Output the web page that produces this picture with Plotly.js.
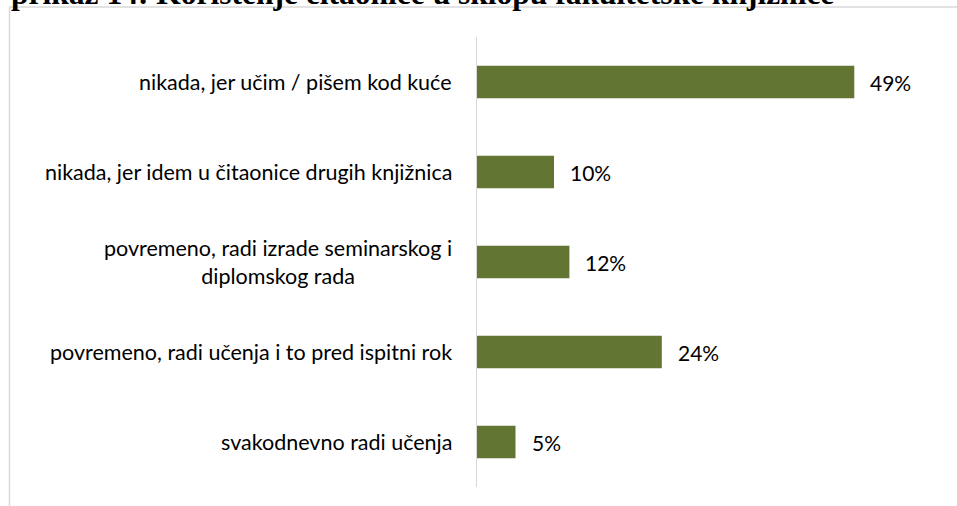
<!DOCTYPE html>
<html>
<head>
<meta charset="utf-8">
<script src="https://cdn.plot.ly/plotly-3.0.1.min.js"></script>
<style>
html,body{margin:0;padding:0;background:#fff;}
#chart{width:957px;height:506px;}
</style>
</head>
<body>
<div id="chart"></div>
<script>
const categories = [
  "nikada, jer učim / pišem kod kuće",
  "nikada, jer idem u čitaonice drugih knjižnica",
  "povremeno, radi izrade seminarskog i<br>diplomskog rada",
  "povremeno, radi učenja i to pred ispitni rok",
  "svakodnevno radi učenja"
];
const values = [49, 10, 12, 24, 5];
const valueLabels = ["49%", "10%", "12%", "24%", "5%"];
const titleText = "prikaz 14: Korištenje čitaonice u sklopu fakultetske knjižnice";

const W = 957, H = 506;
const M = {l: 477, r: 18, t: 37, b: 19};
const pw = W - M.l - M.r, ph = H - M.t - M.b;
const px = x => (x - M.l) / pw;
const py = y => (H - M.b - y) / ph;

const FONT = "Lato, 'Open Sans', sans-serif";
const BAR = "#637532";

const annotations = [];
categories.forEach((c, i) => {
  annotations.push({
    xref: "x", yref: "y", x: 0, y: c, text: c,
    xanchor: "right", yanchor: "middle", xshift: -23, align: "center",
    showarrow: false, font: {family: FONT, size: 21.5, color: "#000"}
  });
  annotations.push({
    xref: "x", yref: "y", x: values[i], y: c, text: valueLabels[i],
    xanchor: "left", yanchor: "middle", xshift: 14,
    showarrow: false, font: {family: FONT, size: 21, color: "#000"}
  });
});
annotations.push({
  xref: "paper", yref: "paper", x: px(9), y: 1, text: "<b>" + titleText + "</b>",
  xanchor: "left", yanchor: "middle", yshift: 44,
  showarrow: false, font: {family: "'Liberation Serif', 'DejaVu Serif', serif", size: 31.5, color: "#000"}
});

const data = [{
  type: "bar", orientation: "h",
  x: values, y: categories,
  marker: {color: BAR},
  width: 0.36,
  hoverinfo: "none"
}];

const layout = {
  width: W, height: H,
  margin: M,
  paper_bgcolor: "#fff", plot_bgcolor: "#fff",
  showlegend: false,
  xaxis: {range: [0, 60], visible: false, fixedrange: true},
  yaxis: {
    type: "category", autorange: "reversed",
    showticklabels: false, ticks: "", showgrid: false, zeroline: false,
    showline: true, linecolor: "#d9d9d9", linewidth: 1.5
  },
  annotations: annotations,
  shapes: [
    {type: "line", xref: "paper", yref: "paper", x0: px(9.5), x1: px(9.5), y0: py(7), y1: py(520),
     line: {color: "#d9d9d9", width: 1.5}},
    {type: "line", xref: "paper", yref: "paper", x0: px(9), x1: px(970), y0: py(7), y1: py(7),
     line: {color: "#d9d9d9", width: 1.5}}
  ]
};

Plotly.newPlot("chart", data, layout, {staticPlot: true, displayModeBar: false});
</script>
</body>
</html>
